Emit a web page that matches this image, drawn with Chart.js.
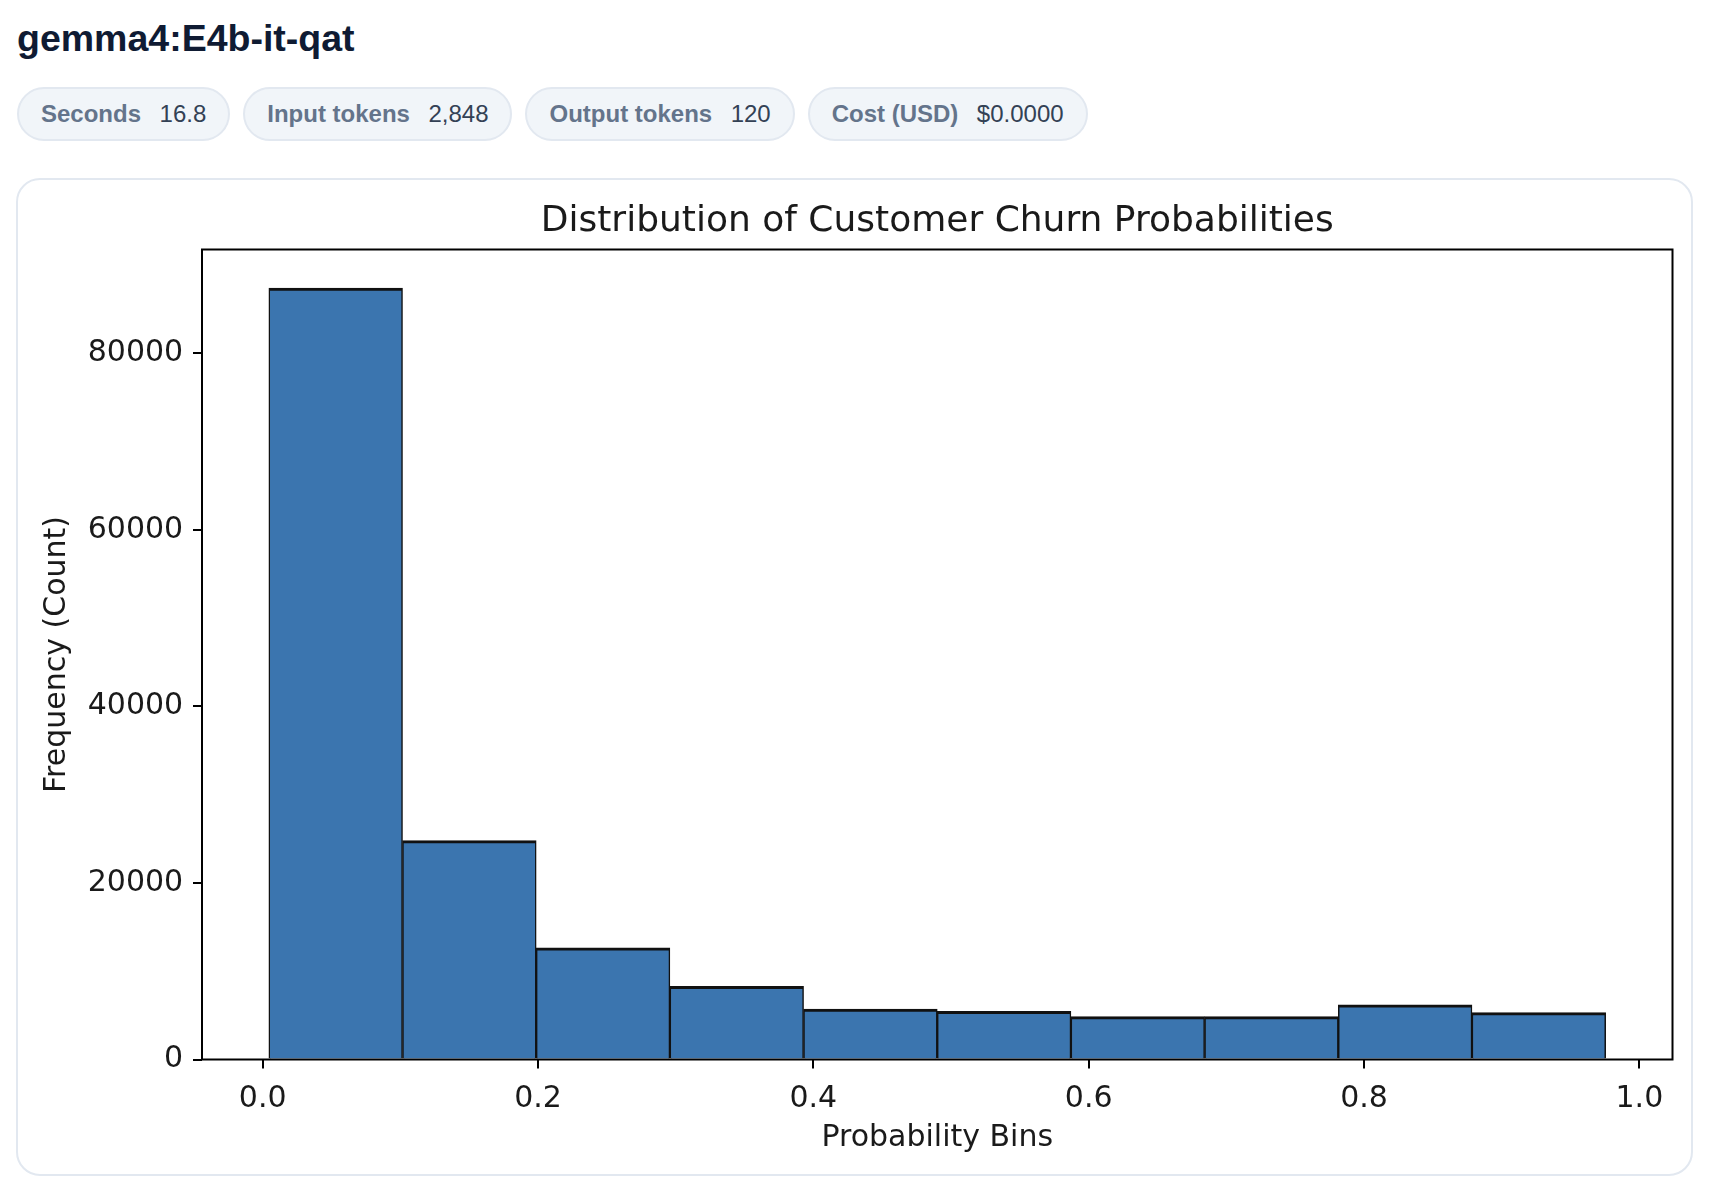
<!DOCTYPE html>
<html><head><meta charset="utf-8">
<script src="https://cdn.jsdelivr.net/npm/chart.js@4.4.1/dist/chart.umd.min.js"></script>
<style>
html,body{margin:0;padding:0;background:#fff;}
body{width:1712px;height:1196px;position:relative;overflow:hidden;font-family:"Liberation Sans",Arial,sans-serif;}
#h{position:absolute;left:17px;top:13.5px;font-weight:700;font-size:37.5px;line-height:48px;color:#0f1b33;margin:0;white-space:nowrap;}
#pills{position:absolute;left:17px;top:87px;display:flex;gap:13px;}
.pill{box-sizing:border-box;height:54px;border:2px solid #e2e8f0;border-radius:27px;background:#f1f5f9;padding:0 22px;display:flex;align-items:center;gap:18.5px;font-size:24px;white-space:nowrap;}
.pill b{font-weight:700;color:#64748b;}
.pill span{color:#334155;}
#card{position:absolute;left:16px;top:178px;width:1677px;height:998px;box-sizing:border-box;border:2px solid #e2e8f0;border-radius:24px;background:#fff;}
#c{position:absolute;left:18px;top:180px;width:1673px;height:994px;}
</style></head>
<body>
<div id="h">gemma4:E4b-it-qat</div>
<div id="pills">
  <div class="pill"><b>Seconds</b><span>16.8</span></div>
  <div class="pill"><b>Input tokens</b><span>2,848</span></div>
  <div class="pill"><b>Output tokens</b><span>120</span></div>
  <div class="pill"><b>Cost (USD)</b><span>$0.0000</span></div>
</div>
<div id="card"></div>
<canvas id="c" width="1673" height="994"></canvas>
<script>
// ---- data ----
const binEdges = [0.0045, 0.1016, 0.1987, 0.2958, 0.3929, 0.4900, 0.5871, 0.6842, 0.7813, 0.8784, 0.9755];
const counts = [87400, 24800, 12650, 8300, 5700, 5470, 4860, 4860, 6180, 5310];
const xTickValues = [0.0, 0.2, 0.4, 0.6, 0.8, 1.0];
const yTickValues = [0, 20000, 40000, 60000, 80000];
const chartTitle = 'Distribution of Customer Churn Probabilities';
const xAxisTitle = 'Probability Bins';
const yAxisTitle = 'Frequency (Count)';

// ---- derived ----
const points = counts.map((c, i) => ({ x: (binEdges[i] + binEdges[i + 1]) / 2, y: c }));
const span = binEdges[binEdges.length - 1] - binEdges[0];
const xMin = binEdges[0] - span * 0.05;
const xMax = binEdges[binEdges.length - 1] + span * 0.05;
const yMax = Math.max(...counts) * 1.05;

Chart.defaults.font.family = 'DejaVu Sans';
Chart.defaults.color = '#1a1a1a';

const frame = {
  id: 'frame',
  afterDatasetsDraw(chart) {
    const { ctx, chartArea: a } = chart;
    ctx.save();
    ctx.strokeStyle = '#000';
    ctx.lineWidth = 2;
    ctx.strokeRect(a.left, a.top, a.right - a.left, a.bottom - a.top);
    ctx.restore();
  }
};

new Chart(document.getElementById('c'), {
  type: 'bar',
  data: {
    datasets: [{
      data: points,
      backgroundColor: '#3b75af',
      borderColor: '#111',
      borderWidth: { top: 3, left: 1.5, right: 1.5, bottom: 0 },
      borderSkipped: false,
      barPercentage: 1.0,
      categoryPercentage: 1.0
    }]
  },
  options: {
    responsive: false,
    devicePixelRatio: 1,
    animation: false,
    layout: { padding: { left: 0, right: 18.5, top: 0, bottom: 0 } },
    plugins: {
      legend: { display: false },
      tooltip: { enabled: false },
      title: {
        display: true,
        fullSize: false,
        text: chartTitle,
        color: '#1a1a1a',
        font: { family: 'DejaVu Sans', size: 36, weight: 'normal', lineHeight: 1.2 },
        padding: { top: 20.1, bottom: 6.2 }
      }
    },
    scales: {
      x: {
        type: 'linear',
        offset: false,
        min: xMin,
        max: xMax,
        afterBuildTicks: (s) => { s.ticks = xTickValues.map(v => ({ value: v })); },
        afterFit: (s) => { s.height = 114.5; },
        ticks: {
          callback: (v) => Number(v).toFixed(1),
          font: { size: 30 },
          color: '#1a1a1a',
          padding: 12.3,
          maxRotation: 0,
          autoSkip: false
        },
        grid: { display: true, drawOnChartArea: false, drawTicks: true, tickLength: 9, color: '#000', lineWidth: 2, offset: false },
        border: { display: false },
        title: { display: true, text: xAxisTitle, font: { size: 30, lineHeight: 1.2 }, color: '#1a1a1a', padding: { top: 0, bottom: 17.3 } }
      },
      y: {
        type: 'linear',
        min: 0,
        max: yMax,
        afterBuildTicks: (s) => { s.ticks = yTickValues.map(v => ({ value: v })); },
        afterFit: (s) => { s.width = 184; },
        ticks: {
          callback: (v) => String(v),
          font: { size: 30 },
          color: '#1a1a1a',
          padding: 9.8,
          autoSkip: false
        },
        grid: { display: true, drawOnChartArea: false, drawTicks: true, tickLength: 9, color: '#000', lineWidth: 2 },
        border: { display: false },
        title: { display: true, text: yAxisTitle, font: { size: 30, lineHeight: 1.2 }, color: '#1a1a1a', padding: { top: 21.2, bottom: 0 } }
      }
    }
  },
  plugins: [frame]
});
</script>
</body></html>
